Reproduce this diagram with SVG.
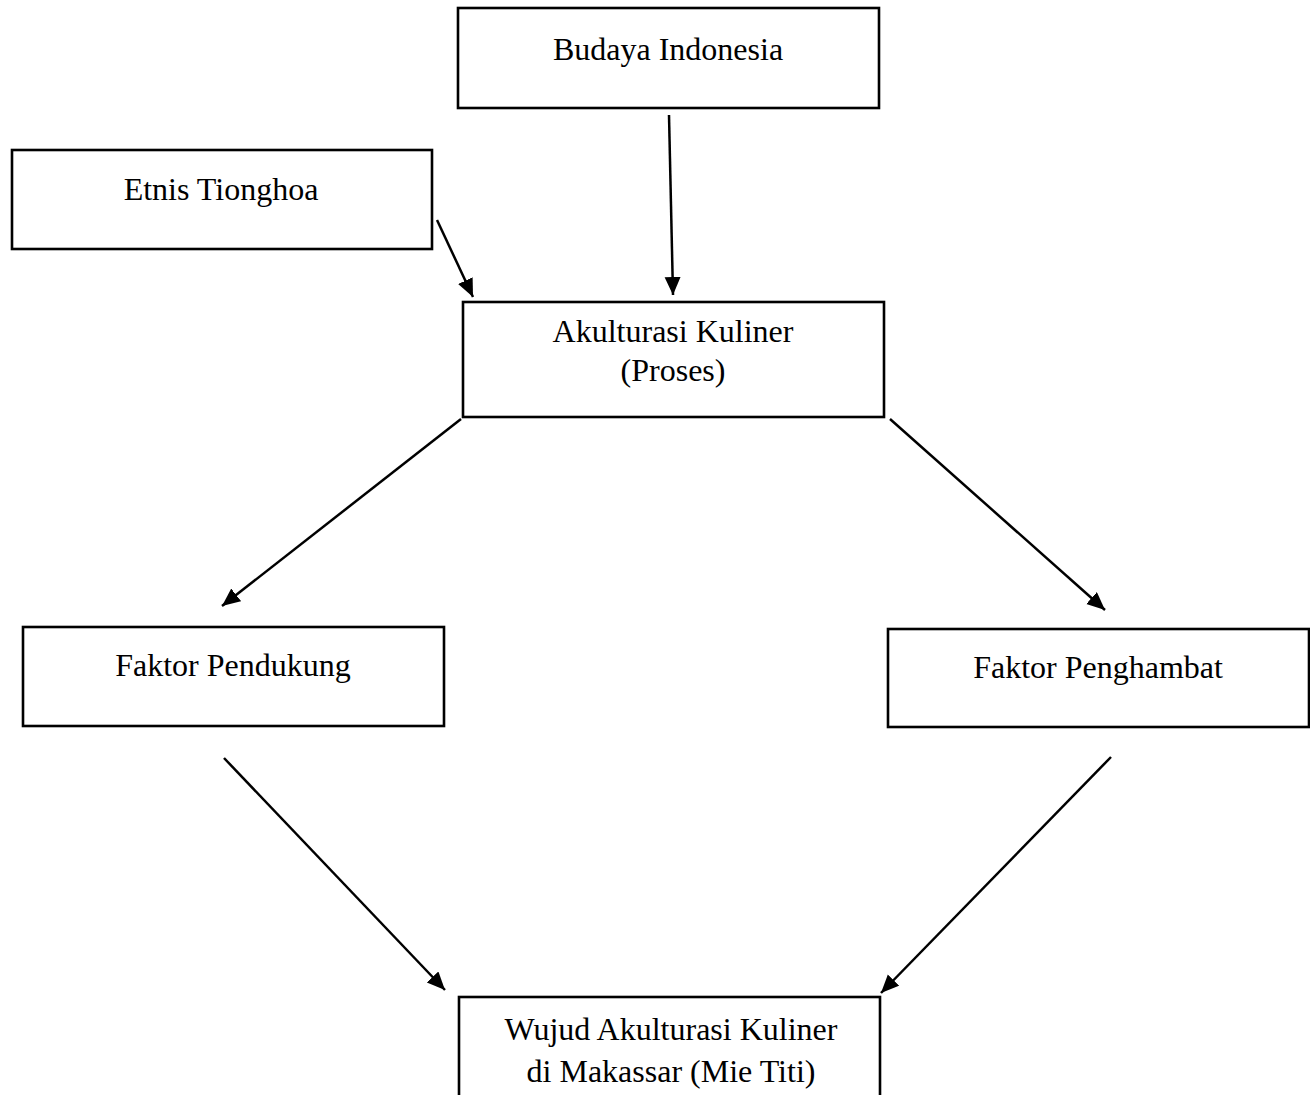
<svg xmlns="http://www.w3.org/2000/svg" width="1310" height="1095" viewBox="0 0 1310 1095">
<defs>
<style>
.box{fill:#fff;stroke:#000;stroke-width:2.6}
.lbl{font-family:"Liberation Serif","Times New Roman",serif;font-size:32px;fill:#000;text-anchor:middle}
.edge{stroke:#000;stroke-width:2.5;fill:none;marker-end:url(#ah)}
</style>
<marker id="ah" markerUnits="userSpaceOnUse" markerWidth="20" markerHeight="18" refX="18" refY="8" orient="auto">
<path d="M0,0 L18,8 L0,16 z" fill="#000"/>
</marker>
</defs>
<rect width="1310" height="1095" fill="#fff"/>
<g id="budaya">
<rect class="box" x="458" y="8" width="421" height="100"/>
<text class="lbl" x="668" y="60">Budaya Indonesia</text>
</g>
<g id="etnis">
<rect class="box" x="12" y="150" width="420" height="99"/>
<text class="lbl" x="221" y="200">Etnis Tionghoa</text>
</g>
<g id="akulturasi">
<rect class="box" x="463" y="302" width="421" height="115"/>
<text class="lbl" x="673" y="342">Akulturasi Kuliner</text>
<text class="lbl" x="673" y="381">(Proses)</text>
</g>
<g id="pendukung">
<rect class="box" x="23" y="627" width="421" height="99"/>
<text class="lbl" x="233" y="676">Faktor Pendukung</text>
</g>
<g id="penghambat">
<rect class="box" x="888" y="629" width="421" height="98"/>
<text class="lbl" x="1098" y="678">Faktor Penghambat</text>
</g>
<g id="wujud">
<rect class="box" x="459" y="997" width="421" height="110"/>
<text class="lbl" x="671" y="1040">Wujud Akulturasi Kuliner</text>
<text class="lbl" x="671" y="1082">di Makassar (Mie Titi)</text>
</g>
<g id="connectors">
<line class="edge" x1="669" y1="115" x2="673" y2="295"/>
<line class="edge" x1="437" y1="220" x2="473" y2="297"/>
<line class="edge" x1="461" y1="419" x2="222" y2="606"/>
<line class="edge" x1="890" y1="419" x2="1105" y2="610"/>
<line class="edge" x1="224" y1="758" x2="445" y2="990"/>
<line class="edge" x1="1111" y1="757" x2="881" y2="993"/>
</g>
</svg>
